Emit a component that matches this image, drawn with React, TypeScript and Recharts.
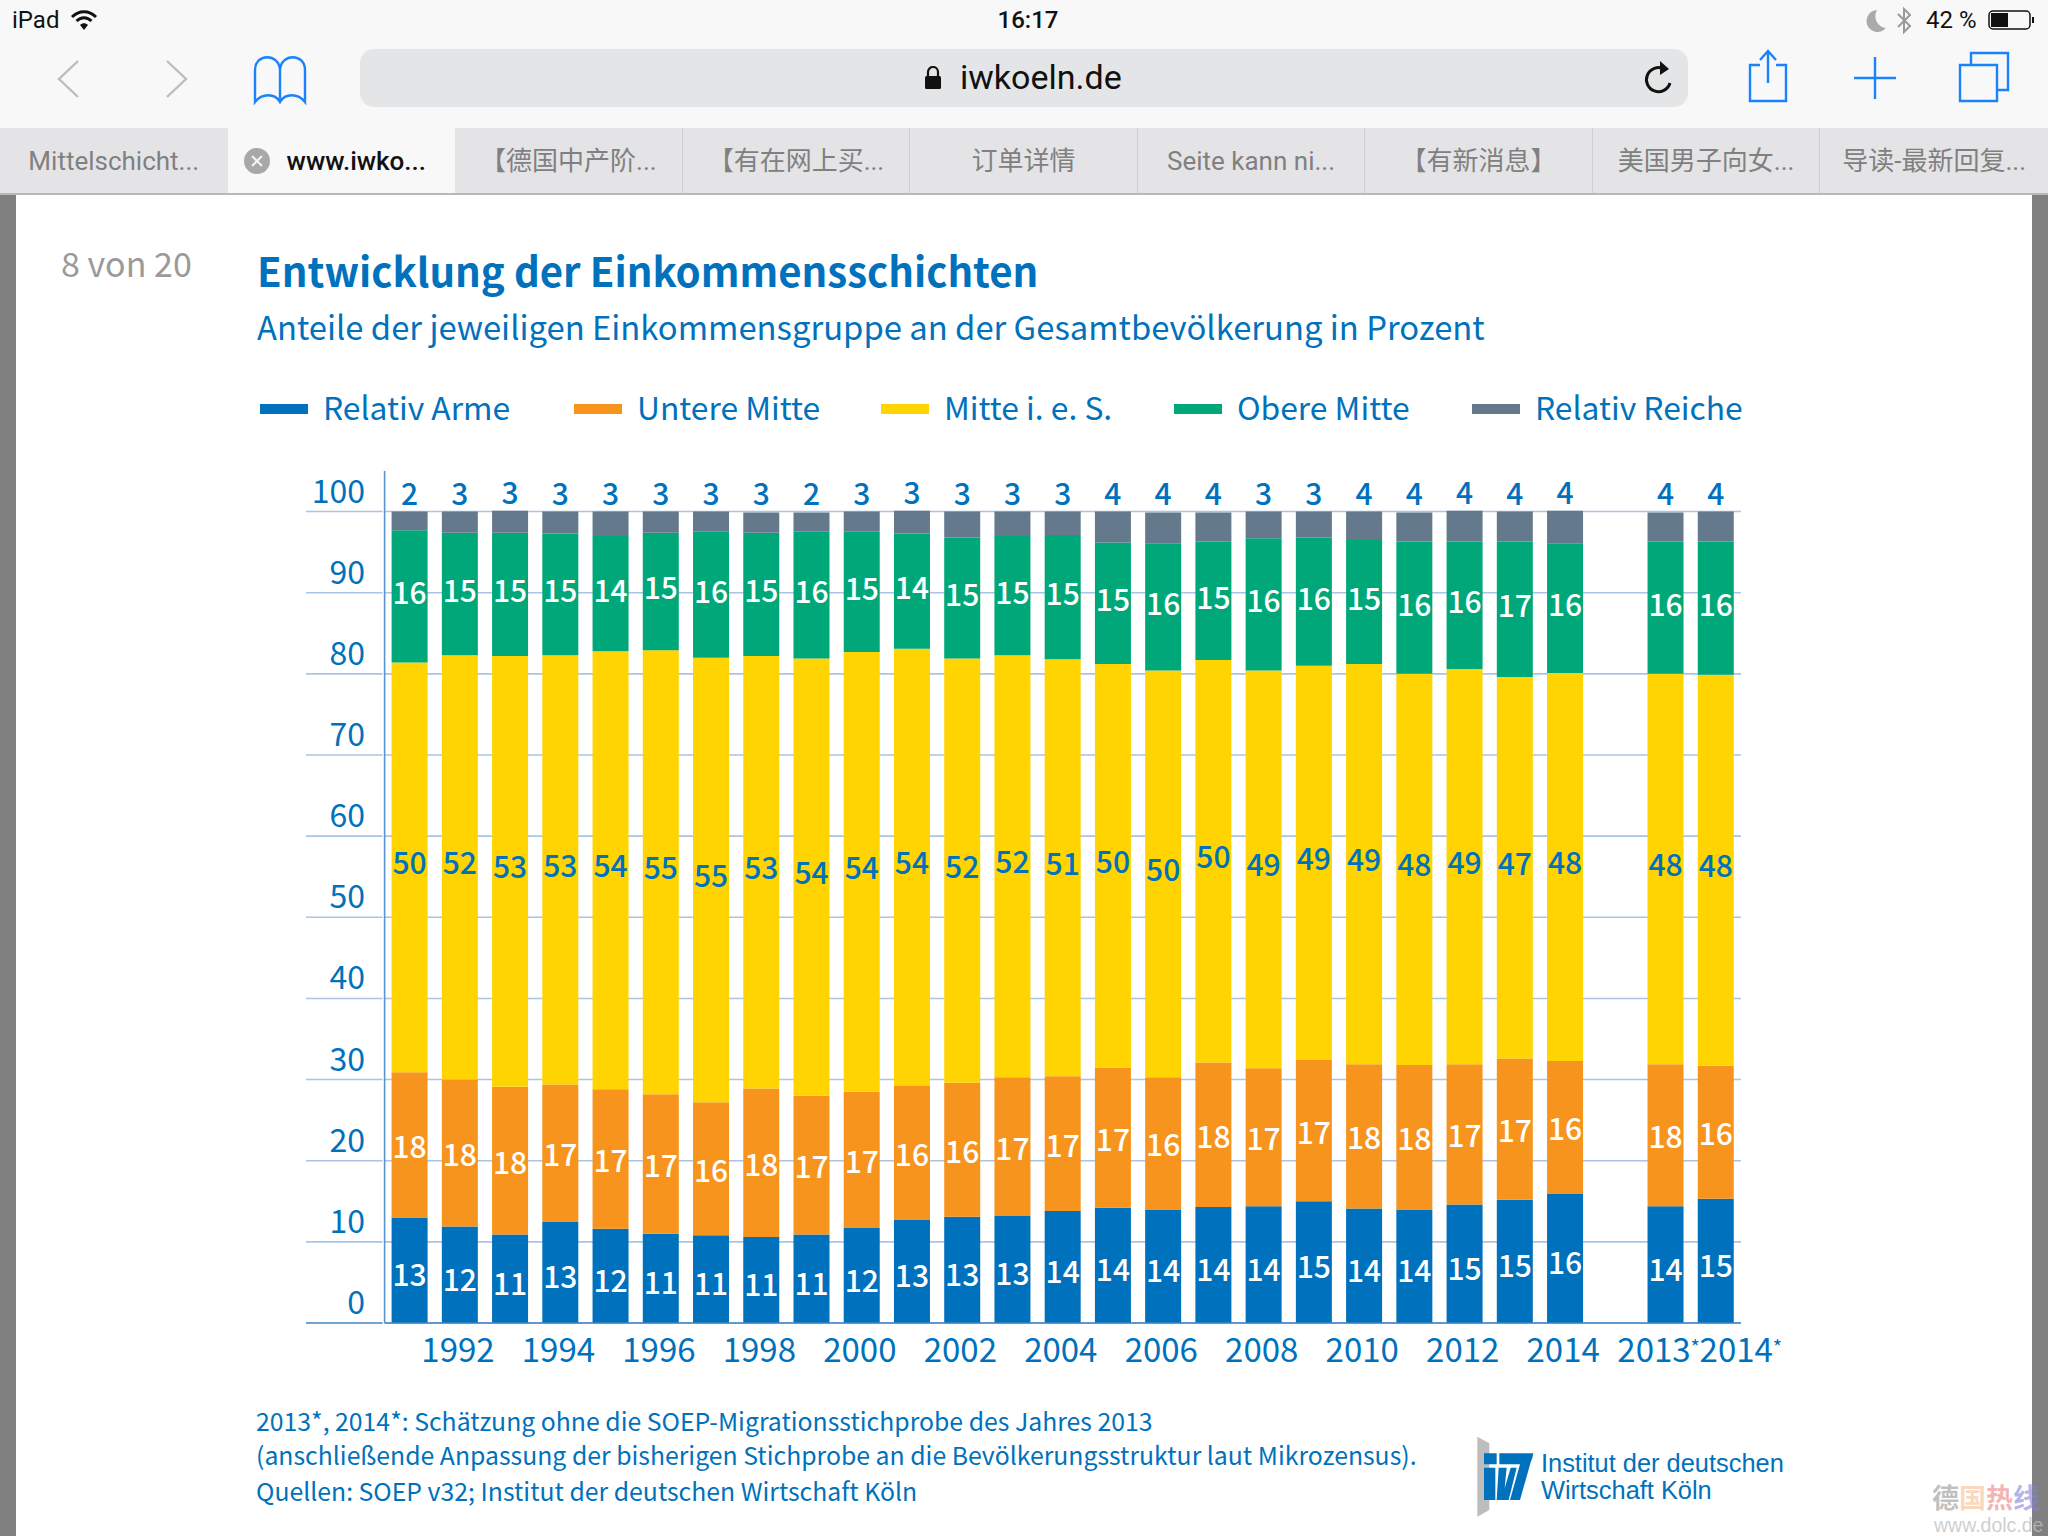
import { BarChart, Bar, XAxis, YAxis, CartesianGrid, LabelList, Legend } from "recharts";

const years = ["1991","1992","1993","1994","1995","1996","1997","1998","1999","2000","2001","2002","2003","2004","2005","2006","2007","2008","2009","2010","2011","2012","2013","2014","","2013*","2014*"];
const arme = [13.0,11.9,10.9,12.5,11.6,11.0,10.8,10.6,10.9,11.7,12.7,13.1,13.2,13.8,14.2,14.0,14.3,14.4,15.0,14.1,14.0,14.6,15.2,15.9,null,14.4,15.3];
const untere = [17.9,18.1,18.2,16.9,17.2,17.2,16.4,18.3,17.1,16.8,16.5,16.5,17.1,16.6,17.3,16.3,17.8,17.0,17.4,17.8,17.8,17.3,17.4,16.4,null,17.5,16.4];
const mitte = [50.5,52.3,53.1,52.9,54.0,54.7,54.8,53.3,53.9,54.2,53.9,52.3,52.0,51.4,49.7,50.1,49.6,49.0,48.6,49.3,48.2,48.7,47.0,47.8,null,48.1,48.2];
const obere = [16.3,15.1,15.2,15.0,14.2,14.5,15.5,15.2,15.6,14.8,14.2,14.9,14.7,15.3,15.0,15.7,14.6,16.3,15.8,15.3,16.3,15.7,16.7,16.0,null,16.3,16.4];
const reiche = [2.3,2.6,2.7,2.7,3.0,2.6,2.5,2.5,2.4,2.5,2.8,3.2,3.0,2.9,3.8,3.8,3.6,3.3,3.2,3.5,3.6,3.8,3.7,4.0,null,3.6,3.7];

// printed labels are the rounded numbers of the original, not always our estimate
const armeLabels = [13,12,11,13,12,11,11,11,11,12,13,13,13,14,14,14,14,14,15,14,14,15,15,16,null,14,15];
const untereLabels = [18,18,18,17,17,17,16,18,17,17,16,16,17,17,17,16,18,17,17,18,18,17,17,16,null,18,16];
const mitteLabels = [50,52,53,53,54,55,55,53,54,54,54,52,52,51,50,50,50,49,49,49,48,49,47,48,null,48,48];
const obereLabels = [16,15,15,15,14,15,16,15,16,15,14,15,15,15,15,16,15,16,16,15,16,16,17,16,null,16,16];
const reicheLabels = [2,3,3,3,3,3,3,3,2,3,3,3,3,3,4,4,4,3,3,4,4,4,4,4,null,4,4];

const yTicks = [0,10,20,30,40,50,60,70,80,90,100];
const xLabels = ["1992","1994","1996","1998","2000","2002","2004","2006","2008","2010","2012","2014","2013*","2014*"];
const tabs = ["Mittelschicht...","www.iwko...","【德国中产阶...","【有在网上买...","订单详情","Seite kann ni...","【有新消息】","美国男子向女...","导读-最新回复..."];

const data = years.map((year, i) => ({
  year,
  arme: arme[i], untere: untere[i], mitte: mitte[i], obere: obere[i], reiche: reiche[i],
  armeLabel: armeLabels[i], untereLabel: untereLabels[i], mitteLabel: mitteLabels[i], obereLabel: obereLabels[i], reicheLabel: reicheLabels[i],
}));

const BLUE = "#0071bc";
const FONT = '"Noto Sans CJK SC", "Noto Sans", sans-serif';
const UI = 'Roboto, "Noto Sans CJK SC", sans-serif';
const legendX = [260, 574, 881, 1174, 1472];

function YTick({ x, y, payload }: any) {
  return (
    <g>
      <line x1={306} x2={x + 6} y1={y} y2={y} stroke={payload.value === 0 ? "#3d86c6" : "#a9c4e4"} strokeWidth={1.6} />
      <text x={365} y={y - 9} textAnchor="end" fontSize={32} fill={BLUE} fontFamily={FONT}>{payload.value}</text>
    </g>
  );
}

function XTick({ x, y, payload }: any) {
  if (!xLabels.includes(payload.value)) return null;
  const star = payload.value.endsWith("*");
  // the two estimate labels are pushed apart in the original
  const shift = payload.value === "2014*" ? 25 : payload.value === "2013*" ? -7 : -2;
  return (
    <text x={x + shift} y={y + 31} textAnchor="middle" fontSize={33} fill={BLUE} fontFamily={FONT}>
      {payload.value.replace("*", "")}
      {star && <tspan fontSize={20} dy={-7}>*</tspan>}
    </text>
  );
}

function LegendRow({ payload }: any) {
  return (
    <div>
      {payload.map((p: any, i: number) => (
        <div key={p.value} style={{ position: "absolute", left: legendX[i], top: 0, whiteSpace: "nowrap" }}>
          <div style={{ position: "absolute", left: 0, top: 23, width: 48, height: 10, background: p.color }} />
          <span style={{ position: "absolute", left: 63, top: -3, fontSize: 31.8, lineHeight: "56px", color: BLUE, fontFamily: FONT }}>{p.value}</span>
        </div>
      ))}
    </div>
  );
}

// centred in its segment, with the small vertical shift the original labels have
function segmentLabel(fill: string, dy: number) {
  return ({ x, y, width, height, value }: any) =>
    value == null ? null : (
      <text x={x + width / 2} y={y + height / 2 + dy} textAnchor="middle" dominantBaseline="central" fill={fill} fontSize={30} fontWeight={500} fontFamily={FONT}>
        {value}
      </text>
    );
}

function Chrome() {
  const blueIcon = { fill: "none", stroke: "#1a82fb", strokeWidth: 2.4 };
  return (
    <div style={{ position: "absolute", left: 0, top: 0, width: 2048, height: 1536, background: "#fff", overflow: "hidden" }}>
      <div style={{ position: "absolute", left: 0, top: 0, width: 2048, height: 128, background: "#f8f8f8" }} />
      <div style={{ position: "absolute", left: 12, top: 6, fontSize: 24, fontFamily: UI, color: "#111" }}>iPad</div>
      <svg style={{ position: "absolute", left: 70, top: 8 }} width="28" height="24" viewBox="0 0 28 24">
        <path d="M2 9c7-7 17-7 24 0M6.5 13c4.500-4.500 10.500-4.500 15 0" fill="none" stroke="#111" strokeWidth="3" />
        <path d="M10 17c2.500-2.500 5.500-2.500 8 0l-4 5z" fill="#111" />
      </svg>
      <div style={{ position: "absolute", left: 928, width: 200, top: 6, textAlign: "center", fontSize: 24, fontWeight: 500, fontFamily: UI, color: "#111" }}>16:17</div>
      <svg style={{ position: "absolute", left: 1865, top: 6 }} width="50" height="30" viewBox="0 0 50 30">
        <path d="M12 4a11 11 0 1 0 9 18a12 12 0 0 1-9-18z" fill="#aaa" />
        <path d="M33 8l12 12-6 6V3l6 6-12 12" fill="none" stroke="#999" strokeWidth="2" />
      </svg>
      <div style={{ position: "absolute", left: 1926, top: 6, fontSize: 24, fontFamily: UI, color: "#111" }}>42 %</div>
      <svg style={{ position: "absolute", left: 1988, top: 8 }} width="50" height="26" viewBox="0 0 50 26">
        <rect x="1" y="3" width="41" height="18" rx="4" fill="none" stroke="#111" strokeWidth="1.5" />
        <rect x="3" y="5" width="17" height="14" fill="#111" />
        <rect x="44" y="9" width="2" height="6" fill="#111" />
      </svg>

      <div style={{ position: "absolute", left: 360, top: 49, width: 1328, height: 58, borderRadius: 14, background: "#e4e5e7" }} />
      <svg style={{ position: "absolute", left: 924, top: 66 }} width="18" height="24" viewBox="0 0 18 24">
        <path d="M4 10V6a5 5 0 0 1 10 0v4" fill="none" stroke="#111" strokeWidth="2.2" />
        <rect x="1" y="10" width="16" height="13" rx="1.500" fill="#111" />
      </svg>
      <div style={{ position: "absolute", left: 960, top: 57, fontSize: 34, fontFamily: UI, color: "#111" }}>iwkoeln.de</div>
      <svg style={{ position: "absolute", left: 1640, top: 58 }} width="36" height="40" viewBox="0 0 36 40">
        <path d="M24 11a12 12 0 1 0 6 14" fill="none" stroke="#111" strokeWidth="3" />
        <path d="M20 3l9 8-9 6z" fill="#111" />
      </svg>
      <svg style={{ position: "absolute", left: 0, top: 0 }} width="2048" height="128">
        <path d="M78 61L59 79l19 18M167 61l19 18-19 18" fill="none" stroke="#bdbdbd" strokeWidth="2.4" />
        <path {...blueIcon} d="M280 70c-1-17-25-17-25 0v32c7-9 20-9 25 0c5-9 18-9 25 0V70c0-17-24-17-25 0v32" />
        <path {...blueIcon} d="M1760 65h-10v36h36V65h-10M1768 83V52M1760 60l8-9 8 9" />
        <path {...blueIcon} d="M1875 57v42M1854 78h42" />
        <path {...blueIcon} d="M1960 65h37v36h-37zM1971 65V53h37v37h-11" />
      </svg>

      <div style={{ position: "absolute", left: 0, top: 128, width: 2048, height: 65, background: "#e4e4e6", borderBottom: "2px solid #b8b8b8" }} />
      {tabs.map((t, i) => (
        <div key={t} style={{
          position: "absolute", left: i * 227.55, top: 128, width: 227.55, height: 65, boxSizing: "border-box",
          borderRight: i > 1 && i < 8 ? "1px solid #cfcfd1" : "none",
          background: i === 1 ? "#f8f8f8" : "transparent",
          textAlign: "center", lineHeight: "66px", fontSize: 26, fontWeight: i === 1 ? 500 : 400,
          color: i === 1 ? "#111" : "#808080", fontFamily: UI, paddingLeft: i === 1 ? 30 : 0,
        }}>{t}</div>
      ))}
      <svg style={{ position: "absolute", left: 244, top: 148 }} width="26" height="26" viewBox="0 0 26 26">
        <circle cx="13" cy="13" r="13" fill="#a8a8a8" />
        <path d="M8 8l10 10M18 8L8 18" stroke="#f4f4f4" strokeWidth="2" />
      </svg>

      <div style={{ position: "absolute", left: 0, top: 195, width: 16, height: 1341, background: "#808080" }} />
      <div style={{ position: "absolute", left: 2032, top: 195, width: 16, height: 1341, background: "#808080" }} />

      <div style={{ position: "absolute", left: 61, top: 238, fontSize: 34, lineHeight: "50px", color: "#9a9a9a", fontFamily: FONT }}>8 von 20</div>
      <div style={{ position: "absolute", left: 257, top: 235, fontSize: 40.2, lineHeight: "70px", fontWeight: 700, color: BLUE, fontFamily: FONT, whiteSpace: "nowrap" }}>Entwicklung der Einkommensschichten</div>
      <div style={{ position: "absolute", left: 257, top: 298, fontSize: 32.8, lineHeight: "56px", color: BLUE, fontFamily: FONT, whiteSpace: "nowrap" }}>Anteile der jeweiligen Einkommensgruppe an der Gesamtbevölkerung in Prozent</div>

      <div style={{ position: "absolute", left: 256, top: 1400, fontSize: 24.8, lineHeight: "40px", color: BLUE, fontFamily: FONT, whiteSpace: "nowrap" }}>2013*, 2014*: Schätzung ohne die SOEP-Migrationsstichprobe des Jahres 2013</div>
      <div style={{ position: "absolute", left: 256, top: 1434, fontSize: 24.8, lineHeight: "40px", color: BLUE, fontFamily: FONT, whiteSpace: "nowrap" }}>(anschließende Anpassung der bisherigen Stichprobe an die Bevölkerungsstruktur laut Mikrozensus).</div>
      <div style={{ position: "absolute", left: 256, top: 1470, fontSize: 24.8, lineHeight: "40px", color: BLUE, fontFamily: FONT, whiteSpace: "nowrap" }}>Quellen: SOEP v32; Institut der deutschen Wirtschaft Köln</div>

      <svg style={{ position: "absolute", left: 1460, top: 1425 }} width="150" height="100" viewBox="0 0 450 300">
        <path d="M52 35l36 20v200l-36 20z" fill="#bdbdbd" />
        <path d="M72 85h38v33H72zM72 128h34v97H72zM118 85h102q-2 15-8 27l-32 113h-30l30-107h-62zM116 128h24l-6 62 18-62h18l-24 97h-36z" fill={BLUE} />
      </svg>
      <div style={{ position: "absolute", left: 1541, top: 1450, fontSize: 25.4, lineHeight: "27px", color: BLUE, fontFamily: '"Liberation Sans", sans-serif', whiteSpace: "nowrap" }}>Institut der deutschen<br />Wirtschaft Köln</div>

      <div style={{ position: "absolute", left: 1932, top: 1479, fontSize: 27, lineHeight: "36px", fontWeight: 700, fontFamily: FONT, whiteSpace: "nowrap" }}>
        <span style={{ color: "rgba(150,150,150,.6)" }}>德</span><span style={{ color: "rgba(245,190,150,.6)" }}>国</span><span style={{ color: "rgba(235,130,130,.6)" }}>热</span><span style={{ color: "rgba(130,130,220,.6)" }}>线</span>
      </div>
      <div style={{ position: "absolute", left: 1934, top: 1515, fontSize: 19.5, lineHeight: "20px", color: "rgba(190,190,190,.75)", fontFamily: '"Liberation Sans", sans-serif' }}>www.dolc.de</div>
    </div>
  );
}

export default function App() {
  return (
    <div style={{ position: "absolute", left: 0, top: 0, width: 2048, height: 1536 }}>
      <Chrome />
      <div style={{ position: "absolute", left: 0, top: 0 }}>
        <BarChart
          width={2048}
          height={1536}
          data={data}
          barCategoryGap={0}
          barSize={36}
          margin={{ top: 471, right: 307, bottom: 97, left: 0 }}
        >
          <CartesianGrid vertical={false} horizontalValues={yTicks} stroke="#a9c4e4" strokeWidth={1.6} />
          <XAxis dataKey="year" interval={0} height={60} tick={<XTick />} tickLine={false} axisLine={{ stroke: "#3d86c6", strokeWidth: 1.6 }} />
          <YAxis width={384.6} domain={[0, 105]} ticks={yTicks} tick={<YTick />} tickLine={false} axisLine={{ stroke: "#5a94cf", strokeWidth: 1.6 }} />
          <Legend itemSorter={null} content={<LegendRow />} wrapperStyle={{ position: "absolute", left: 0, top: 381, bottom: "auto", width: 2048, height: 56 }} />
          <Bar dataKey="arme" name="Relativ Arme" stackId="a" fill="#0071bc" isAnimationActive={false}>
            <LabelList dataKey="armeLabel" content={segmentLabel("#fff", 3)} />
          </Bar>
          <Bar dataKey="untere" name="Untere Mitte" stackId="a" fill="#f7941e" isAnimationActive={false}>
            <LabelList dataKey="untereLabel" content={segmentLabel("#fff", 0)} />
          </Bar>
          <Bar dataKey="mitte" name="Mitte i. e. S." stackId="a" fill="#ffd400" isAnimationActive={false}>
            <LabelList dataKey="mitteLabel" content={segmentLabel(BLUE, -6)} />
          </Bar>
          <Bar dataKey="obere" name="Obere Mitte" stackId="a" fill="#00a879" isAnimationActive={false}>
            <LabelList dataKey="obereLabel" content={segmentLabel("#fff", -5)} />
          </Bar>
          <Bar dataKey="reiche" name="Relativ Reiche" stackId="a" fill="#64798c" isAnimationActive={false}>
            <LabelList dataKey="reicheLabel" position="top" offset={7} fill={BLUE} style={{ fontSize: 30, fontWeight: 500, fontFamily: FONT }} />
          </Bar>
        </BarChart>
      </div>
    </div>
  );
}
